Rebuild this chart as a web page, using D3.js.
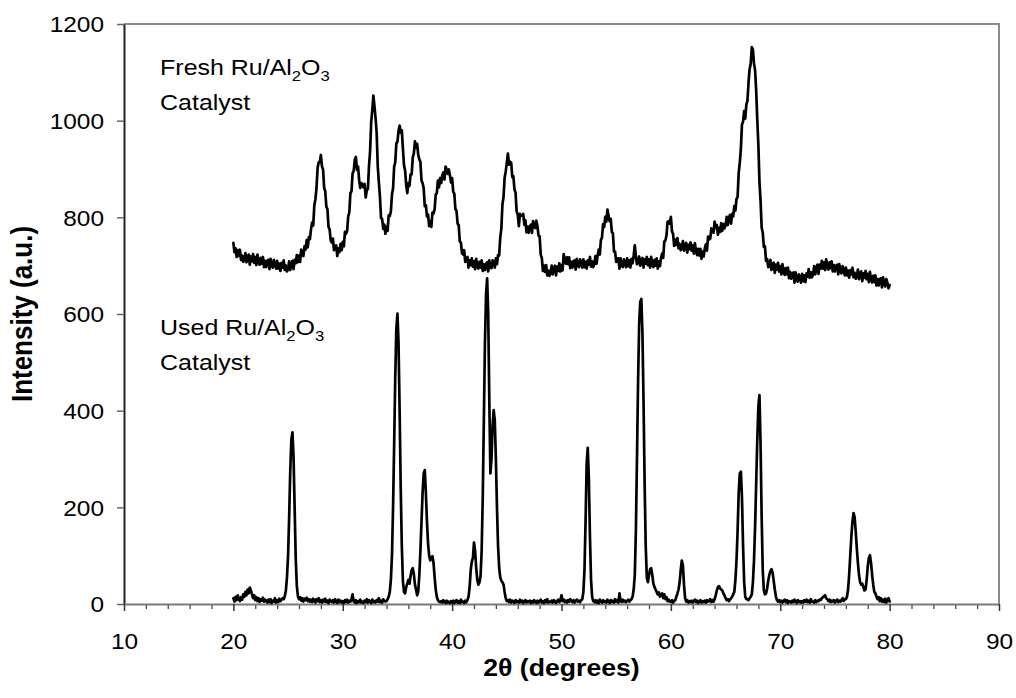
<!DOCTYPE html>
<html>
<head>
<meta charset="utf-8">
<script src="https://cdn.jsdelivr.net/npm/d3@7"></script>
<style>
  body { margin: 0; background: #fff; }
  text { font-family: "Liberation Sans", Arial, sans-serif; fill: #000; }
</style>
</head>
<body>
<svg id="chart" width="1016" height="698"></svg>
<script>
// X-ray diffraction scans, 2θ from 20° to 80° in 0.1° steps
const scanStart = 20;
const scanStep = 0.1;

const xTicks = [10, 20, 30, 40, 50, 60, 70, 80, 90];
const yTicks = [0, 200, 400, 600, 800, 1000, 1200];

// Fresh Ru/Al2O3 catalyst (one row per degree)
const fresh = [
  747,728,736,718,732,720,733,712,721,708,
  712,726,707,718,723,702,719,709,724,706,
  718,701,723,708,702,716,704,718,697,710,
  697,710,712,693,714,701,696,712,704,694,
  710,694,704,689,706,696,711,691,700,688,
  693,709,691,704,710,693,712,705,722,707,
  721,708,733,722,720,740,733,753,738,759,
  755,776,789,783,825,837,861,902,914,914,
  929,905,899,861,854,822,817,780,775,752,
  748,756,732,740,742,720,736,728,745,732,
  749,740,770,766,772,802,810,850,854,891,
  896,919,925,898,905,877,861,871,867,862,
  869,841,856,859,906,937,997,1022,1052,1030,
  1005,975,906,873,843,798,797,776,785,766,
  781,772,804,803,812,847,860,905,914,953,
  956,979,990,975,980,942,908,897,867,850,
  871,865,889,889,924,932,957,944,952,930,
  920,915,876,871,860,823,825,802,806,782,
  792,780,810,808,817,847,850,876,862,881,
  871,887,893,878,905,899,890,899,887,872,
  881,853,849,817,814,787,784,750,748,726,
  723,732,708,716,718,696,711,701,715,698,
  709,693,714,700,694,708,696,711,689,703,
  691,704,707,688,711,698,695,711,705,696,
  715,703,722,721,758,777,827,842,882,895,
  913,932,909,915,913,883,885,858,851,812,
  806,782,807,803,804,807,785,794,769,781,
  768,781,785,768,792,781,778,793,782,762,
  761,723,716,689,700,687,701,680,690,679,
  685,700,682,694,700,680,698,689,705,688,
  701,690,724,713,704,717,703,717,695,708,
  696,709,711,692,714,701,697,713,706,696,
  713,697,708,694,711,702,718,698,709,697,
  703,720,704,721,733,723,753,758,786,780,
  801,791,816,803,792,797,770,767,729,729,
  708,715,715,694,715,701,697,713,707,697,
  715,699,711,696,714,705,721,742,720,703,
  705,719,700,711,716,696,713,704,718,701,
  713,696,718,704,697,712,700,715,694,709,
  699,716,725,716,750,752,763,791,792,787,
  801,771,766,741,754,743,757,736,745,732,
  736,751,731,743,747,727,743,734,748,731,
  742,725,746,730,722,735,721,735,714,729,
  719,736,744,731,760,754,756,777,774,768,
  791,778,784,764,778,770,788,772,786,777,
  784,801,784,798,805,787,807,802,823,814,
  838,842,892,913,942,992,998,1020,1004,1033,
  1041,1079,1107,1118,1152,1147,1118,1104,1062,1002,
  949,873,834,779,768,739,740,710,714,697,
  699,712,691,702,706,685,702,692,706,688,
  699,682,703,688,681,695,682,696,674,687,
  673,684,686,665,686,672,667,682,675,665,
  683,668,680,666,684,677,693,675,686,676,
  683,699,682,695,702,683,702,694,710,694,
  707,691,713,699,692,707,695,709,688,701,
  688,700,702,682,703,689,684,699,691,680,
  696,680,690,675,691,682,696,676,685,673,
  677,692,672,684,688,668,684,675,689,672,
  683,666,687,672,665,679,666,680,659,672,
  659,672,674,655,676,662,657,672,664,653,
  660
];

// Used Ru/Al2O3 catalyst (one row per degree)
const used = [
  12,5,15,8,18,10,6,14,9,20,
  15,25,18,30,22,34,28,20,12,18,
  8,14,6,12,4,10,7,13,5,9,
  6,3,9,4,10,2,7,5,12,3,
  8,4,11,6,9,12,10,16,28,55,
  100,180,275,340,355,305,200,95,38,16,
  10,14,7,12,5,11,8,13,6,10,
  5,9,4,11,7,3,10,6,12,4,
  8,3,9,5,11,4,7,2,9,6,
  4,8,3,10,5,2,9,4,7,3,
  6,2,8,4,9,3,7,5,10,20,
  5,3,8,2,6,4,9,3,5,2,
  7,4,10,3,8,5,2,9,4,6,
  3,8,5,12,4,7,3,10,6,5,
  6,10,15,25,50,100,200,330,470,570,
  601,540,400,240,120,48,25,22,35,42,
  50,42,58,70,74,62,40,30,18,25,
  60,110,170,230,270,277,230,170,125,100,
  90,95,99,85,55,30,15,8,5,4,
  6,3,8,4,2,7,3,5,2,6,
  3,7,2,5,8,3,6,2,9,4,
  5,2,7,4,8,15,35,70,88,95,
  127,110,75,50,40,45,58,110,220,380,
  540,640,674,600,420,270,300,370,401,380,
  300,200,120,75,55,48,45,40,25,12,
  6,8,4,9,3,7,5,2,8,4,
  6,3,9,4,7,2,5,8,3,6,
  4,7,2,6,3,8,4,2,7,3,
  5,9,3,6,2,8,4,10,3,5,
  4,7,3,8,5,2,6,9,4,7,
  18,6,9,4,7,3,8,5,10,6,
  4,8,3,6,9,5,7,4,8,10,
  25,70,170,290,323,260,140,50,15,6,
  4,8,3,7,2,9,5,3,8,4,
  6,3,9,5,2,8,4,7,3,10,
  5,8,3,22,6,4,9,5,7,4,
  6,9,5,8,10,15,30,60,150,300,
  460,580,625,631,560,420,250,120,55,45,
  60,72,74,60,42,35,30,25,20,24,
  15,18,22,12,20,10,14,6,9,5,
  4,8,3,6,8,15,22,30,45,70,
  90,80,40,12,5,8,3,6,4,7,
  3,6,9,4,7,2,5,8,3,6,
  4,7,3,8,5,6,10,4,8,5,
  10,18,28,35,37,32,30,28,22,18,
  12,8,10,6,9,12,15,20,25,50,
  90,150,230,270,274,220,120,45,15,10,
  10,8,12,15,20,45,90,160,250,340,
  410,432,330,180,70,28,20,22,32,48,
  60,68,72,65,48,30,16,8,5,8,
  4,7,3,6,9,4,8,2,6,5,
  3,7,4,9,5,2,8,4,6,3,
  6,3,8,5,9,4,7,3,10,5,
  5,3,8,4,7,6,9,8,12,14,
  16,18,12,10,6,9,4,7,5,8,
  3,6,9,4,7,5,8,12,6,10,
  10,15,30,60,100,140,170,188,180,150,
  115,85,60,45,40,42,35,28,30,50,
  78,95,101,85,60,40,25,22,15,10,
  14,6,12,5,9,4,11,3,8,12,
  5
];

// Trace labels, anchored in data coordinates (2θ, intensity)
const seriesLabels = [
  { name: "Fresh", at: [13.3, 1095] },
  { name: "Used", at: [13.3, 557] }
];

// ---- layout ----
const plot = { left: 124, right: 999, top: 24, bottom: 604 };
const stretch = 1.11;          // horizontal text scaling of the figure
const fontSize = 22;

const svg = d3.select("#chart");

const x = d3.scaleLinear().domain([10, 90]).range([plot.left, plot.right]);
const y = d3.scaleLinear().domain([0, 1200]).range([plot.bottom, plot.top]);

// plot-area frame (top and right edges)
svg.append("path")
  .attr("d", `M${plot.left},${plot.top}H${plot.right}V${plot.bottom}`)
  .attr("fill", "none")
  .attr("stroke", "#8c8c8c")
  .attr("stroke-width", 2);

// ---- y axis ----
const yAxis = svg.append("g")
  .attr("transform", `translate(${plot.left},0)`)
  .call(d3.axisLeft(y).tickValues(yTicks).tickSize(7).tickSizeOuter(0).tickFormat(d3.format("d")));
yAxis.select(".domain").attr("stroke", "#222").attr("stroke-width", 2);
yAxis.selectAll(".tick line").attr("stroke", "#666").attr("stroke-width", 1.5);
yAxis.selectAll(".tick text")
  .attr("x", null).attr("dy", "0.36em")
  .attr("transform", `translate(-20,0) scale(${stretch},1)`)
  .style("font-size", fontSize + "px")
  .attr("font-family", null);

// ---- x axis ----
const minorX = d3.range(10, 90.001, 2).filter(v => v % 10 !== 0);
const xMinor = svg.append("g")
  .attr("transform", `translate(0,${plot.bottom})`)
  .call(d3.axisBottom(x).tickValues(minorX).tickSize(5).tickSizeOuter(0).tickFormat(""));
xMinor.select(".domain").remove();
xMinor.selectAll(".tick line").attr("stroke", "#444").attr("stroke-width", 1.3);

const xAxis = svg.append("g")
  .attr("transform", `translate(0,${plot.bottom})`)
  .call(d3.axisBottom(x).tickValues(xTicks).tickSize(7).tickSizeOuter(0).tickFormat(d3.format("d")));
xAxis.select(".domain").attr("stroke", "#7a7a7a").attr("stroke-width", 2);
xAxis.selectAll(".tick line").attr("stroke", "#333").attr("stroke-width", 1.5);
xAxis.selectAll(".tick text")
  .attr("y", null).attr("dy", null)
  .attr("transform", `translate(0,45) scale(${stretch},1)`)
  .style("font-size", fontSize + "px")
  .attr("font-family", null);

// ---- diffraction traces ----
const line = d3.line()
  .x((d, i) => x(scanStart + i * scanStep))
  .y(d => y(d));

[fresh, used].forEach(series => {
  svg.append("path")
    .datum(series)
    .attr("d", line)
    .attr("fill", "none")
    .attr("stroke", "#000")
    .attr("stroke-width", 2.7)
    .attr("stroke-linejoin", "round")
    .attr("stroke-linecap", "round");
});

// ---- in-plot labels ----
seriesLabels.forEach(lbl => {
  const px = x(lbl.at[0]), py = y(lbl.at[1]);
  const t = svg.append("text")
    .attr("transform", `translate(${px},${py}) scale(${stretch},1)`)
    .style("font-size", "22.5px");
  t.append("tspan").text(lbl.name + " Ru/Al");
  t.append("tspan").attr("dy", 6).style("font-size", "15px").text("2");
  t.append("tspan").attr("dy", -6).text("O");
  t.append("tspan").attr("dy", 6).style("font-size", "15px").text("3");
  svg.append("text")
    .attr("transform", `translate(${px},${py + 35}) scale(${stretch},1)`)
    .style("font-size", "22.5px")
    .text("Catalyst");
});

// ---- axis titles ----
svg.append("text")
  .attr("transform", `translate(${(plot.left + plot.right) / 2},676) scale(${stretch},1)`)
  .attr("text-anchor", "middle")
  .style("font-size", "24px")
  .style("font-weight", "bold")
  .text("2θ (degrees)");

svg.append("text")
  .attr("transform", `translate(32,${(plot.top + plot.bottom) / 2}) scale(${stretch},1) rotate(-90)`)
  .attr("text-anchor", "middle")
  .style("font-size", "26px")
  .style("font-weight", "bold")
  .text("Intensity (a.u.)");
</script>
</body>
</html>
